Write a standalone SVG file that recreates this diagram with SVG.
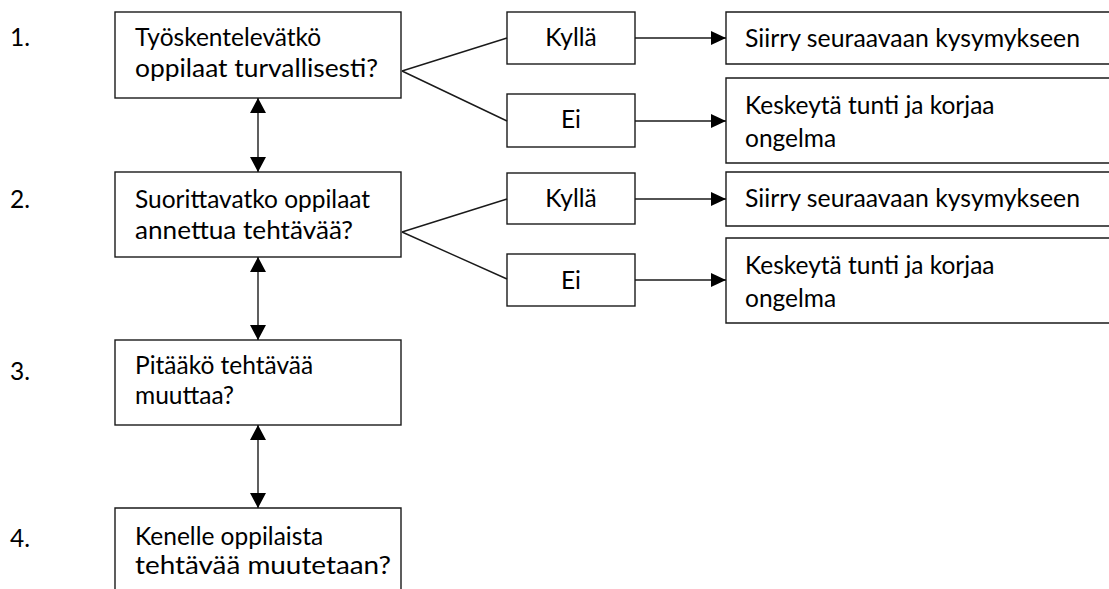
<svg xmlns="http://www.w3.org/2000/svg" width="1109" height="589" viewBox="0 0 1109 589">
<defs>
<style>
.box{fill:#fff;stroke:#1a1a1a;stroke-width:1.4}
.ln{fill:none;stroke:#1a1a1a;stroke-width:1.4}
text{font-family:Lato,"Liberation Sans",sans-serif;font-size:24.5px;fill:#000}
.c{text-anchor:middle}
</style>
<marker id="ah" markerUnits="userSpaceOnUse" markerWidth="16" markerHeight="16" viewBox="0 0 15 16" refX="15" refY="8" orient="auto-start-reverse">
<path d="M0,0 L15,8 L0,16 Z" fill="#000"/>
</marker>
<marker id="ahs" markerUnits="userSpaceOnUse" markerWidth="15" markerHeight="14" viewBox="0 0 15 14" refX="15" refY="7" orient="auto">
<path d="M0,0 L15,7 L0,14 Z" fill="#000"/>
</marker>
</defs>
<g id="labels">
<text x="10" y="46">1.</text>
<text x="10" y="208">2.</text>
<text x="10" y="380">3.</text>
<text x="10" y="547">4.</text>
</g>
<g id="q1"><rect class="box" x="115" y="12" width="286" height="86"/><text x="135" y="46">Työskentelevätkö</text><text x="135" y="77" textLength="243" lengthAdjust="spacingAndGlyphs">oppilaat turvallisesti?</text></g>
<g id="q2"><rect class="box" x="115" y="172" width="286" height="85"/><text x="135" y="208">Suorittavatko oppilaat</text><text x="135" y="239" textLength="218" lengthAdjust="spacingAndGlyphs">annettua tehtävää?</text></g>
<g id="q3"><rect class="box" x="115" y="340" width="286" height="85"/><text x="135" y="374">Pitääkö tehtävää</text><text x="135" y="404">muuttaa?</text></g>
<g id="q4"><path class="ln" d="M115,590 V508 H401 V590" style="fill:#fff"/><text x="135" y="545">Kenelle oppilaista</text><text x="135" y="574" textLength="256" lengthAdjust="spacingAndGlyphs">tehtävää muutetaan?</text></g>
<g id="k1"><rect class="box" x="507" y="12" width="128" height="52"/><text class="c" x="571" y="46">Kyllä</text></g>
<g id="e1"><rect class="box" x="507" y="94" width="128" height="53"/><text class="c" x="571" y="128">Ei</text></g>
<g id="k2"><rect class="box" x="507" y="173" width="128" height="51"/><text class="c" x="571" y="207">Kyllä</text></g>
<g id="e2"><rect class="box" x="507" y="254" width="128" height="52"/><text class="c" x="571" y="289">Ei</text></g>
<g id="s1"><path class="box" d="M1110,12 H726 V64 H1110"/><text x="745" y="47" textLength="335" lengthAdjust="spacingAndGlyphs">Siirry seuraavaan kysymykseen</text></g>
<g id="p1"><path class="box" d="M1110,78 H726 V163 H1110"/><text x="745" y="114">Keskeytä tunti ja korjaa</text><text x="745" y="147">ongelma</text></g>
<g id="s2"><path class="box" d="M1110,172 H726 V226 H1110"/><text x="745" y="207" textLength="335" lengthAdjust="spacingAndGlyphs">Siirry seuraavaan kysymykseen</text></g>
<g id="p2"><path class="box" d="M1110,238 H726 V323 H1110"/><text x="745" y="274">Keskeytä tunti ja korjaa</text><text x="745" y="307">ongelma</text></g>
<g id="connectors">
<path class="ln" d="M402,71 L507,38 M402,71 L507,121"/>
<path class="ln" d="M402,232 L507,199 M402,232 L507,279"/>
<path class="ln" d="M635,38 H726" marker-end="url(#ahs)"/>
<path class="ln" d="M635,121 H726" marker-end="url(#ahs)"/>
<path class="ln" d="M635,199 H726" marker-end="url(#ahs)"/>
<path class="ln" d="M635,280 H726" marker-end="url(#ahs)"/>
<path class="ln" d="M258,98 V172" marker-start="url(#ah)" marker-end="url(#ah)"/>
<path class="ln" d="M258,257 V340" marker-start="url(#ah)" marker-end="url(#ah)"/>
<path class="ln" d="M258,425 V508" marker-start="url(#ah)" marker-end="url(#ah)"/>
</g>
</svg>
